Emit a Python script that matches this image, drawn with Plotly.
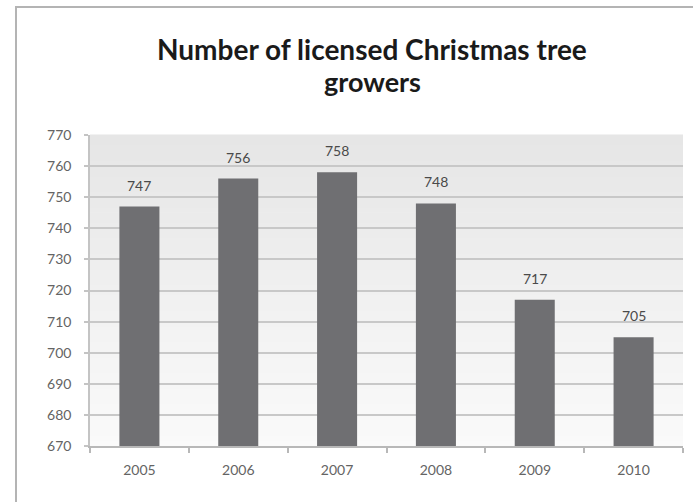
import plotly.graph_objects as go

# Licensed Christmas tree growers per year
years = ["2005", "2006", "2007", "2008", "2009", "2010"]
growers = [747, 756, 758, 748, 717, 705]
y_ticks = list(range(670, 771, 10))

W, H = 693, 502
L, R, T, B = 90, 10, 135, 56

fig = go.Figure()
fig.add_trace(go.Bar(
    x=years, y=growers,
    marker=dict(color="#6f6f72", line=dict(width=0)),
    width=0.405,
    hoverinfo="x+y",
))

# value labels above each bar
for i, v in enumerate(growers):
    fig.add_annotation(x=i, y=v, xref="x", yref="y", text=str(v), showarrow=False,
                       yanchor="bottom", yshift=11,
                       font=dict(family="Lato", size=14, color="#4a4a4a"))

# vertical grey gradient behind the plot area
shapes = []
n = 60
top_c, bot_c = (230, 230, 230), (250, 250, 250)
for i in range(n):
    f = i / (n - 1)
    c = tuple(round(bot_c[k] + (top_c[k] - bot_c[k]) * f) for k in range(3))
    shapes.append(dict(type="rect", xref="x domain", yref="y domain",
                       x0=0, x1=1, y0=i / n, y1=(i + 1) / n + 0.002,
                       fillcolor="rgb(%d,%d,%d)" % c, line=dict(width=0),
                       layer="below"))

# outer chart frame
pw, ph = W - L - R, H - T - B
def px_x(p):
    return (p - L) / pw
def px_y(p):
    return (H - B - p) / ph
shapes.append(dict(type="rect", xref="paper", yref="paper",
                   x0=px_x(16), x1=px_x(760), y0=px_y(7), y1=px_y(560),
                   line=dict(color="#b4b4b4", width=2), fillcolor="rgba(0,0,0,0)",
                   layer="above"))

# two-line title
fig.add_annotation(xref="paper", yref="paper", x=px_x(372), y=px_y(49),
                   text="<b>Number of licensed Christmas tree</b>", showarrow=False,
                   xanchor="center", yanchor="middle",
                   font=dict(family="Lato", size=28, color="#1a1a1a"))
fig.add_annotation(xref="paper", yref="paper", x=px_x(372), y=px_y(82),
                   text="<b>growers</b>", showarrow=False,
                   xanchor="center", yanchor="middle",
                   font=dict(family="Lato", size=27, color="#1a1a1a"))

fig.update_layout(
    width=W, height=H,
    margin=dict(l=L, r=R, t=T, b=B, pad=0),
    paper_bgcolor="white",
    plot_bgcolor="#f4f4f4",
    showlegend=False,
    shapes=shapes,
)
fig.update_xaxes(
    type="category", range=[-0.5, 5.5], tickson="boundaries",
    ticks="outside", ticklen=5,
    tickcolor="#b8b8b8", tickwidth=1.5,
    showline=True, linecolor="#b8b8b8", linewidth=1.5,
    showgrid=False, tickangle=0,
    tickfont=dict(family="Lato", size=14, color="#646464"),
    ticklabelstandoff=10,
)
fig.update_yaxes(
    range=[670, 770], tickvals=y_ticks, ticks="outside", ticklen=4,
    tickcolor="#c4c4c4", tickwidth=1.5,
    showline=True, linecolor="#c4c4c4", linewidth=1.5,
    showgrid=True, gridcolor="#c8c8c8", gridwidth=1.5,
    zeroline=False,
    tickfont=dict(family="Lato", size=14, color="#646464"),
    ticklabelstandoff=10,
)

fig.write_html("out.html")
